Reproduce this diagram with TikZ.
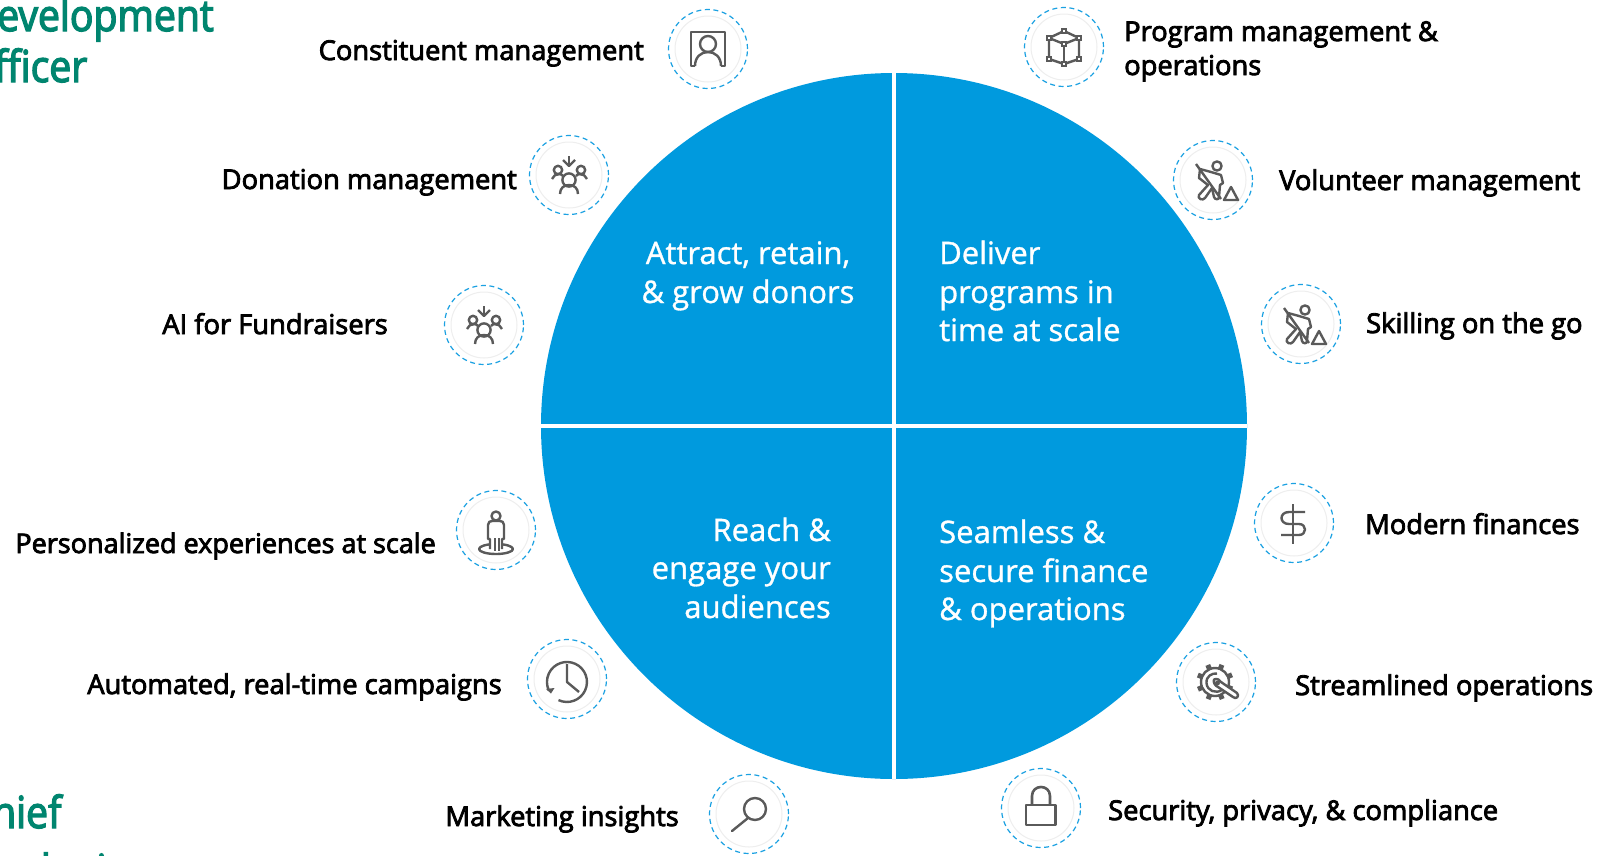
\documentclass[tikz,border=0pt]{standalone}
\usepackage{fontspec}
\setmainfont{Open Sans}
\newfontfamily\labfont[FakeBold=3]{Open Sans}
\newfontfamily\bigfont[FakeBold=1]{Open Sans}
\newfontfamily\tealfont[FakeBold=3,FakeStretch=0.89]{Open Sans}
\definecolor{wheelblue}{HTML}{009ADE}
\definecolor{dashblue}{HTML}{1BA1E2}
\definecolor{ringgray}{HTML}{EEEEEE}
\definecolor{icongray}{HTML}{5A5A5A}
\definecolor{headteal}{HTML}{00856F}
\tikzset{
  iconring/.style={circle,draw=dashblue,line width=1.2pt,dash pattern=on 5pt off 3.6pt,minimum size=79pt,inner sep=0pt},
  innerring/.style={circle,draw=ringgray,line width=1pt,minimum size=66pt,inner sep=0pt},
  iconline/.style={draw=icongray,line width=2.4pt,line join=round,fill=none},
  itemlabel/.style={font=\labfont\fontsize{27.3}{30}\selectfont,text=black,inner sep=0pt},
  wheeltext/.style={font=\bigfont\fontsize{31}{38}\selectfont,text=white,inner sep=0pt},
  tealtext/.style={font=\tealfont\fontsize{44}{50}\selectfont,text=headteal,inner sep=0pt},
  constituenticon/.pic={
    \draw[iconline] (-13,17) -- (-17,17) -- (-17,-17) -- (17,-17) -- (17,17) -- (13,17);
    \draw[iconline] (0,-5) circle[radius=8];
    \draw[iconline] (-13,17) .. controls (-13,8) and (-7,3) .. (0,3) .. controls (7,3) and (13,8) .. (13,17);
  },
  cubeicon/.pic={
    \draw[iconline] (0,-16) -- (-15,-9) -- (0,-3) -- (15,-9) -- cycle;
    \draw[iconline] (-15,-9) -- (-15,12) -- (0,17) -- (15,12) -- (15,-9);
    \draw[iconline] (0,-3) -- (0,17);
    \foreach \p in {(0,-16),(-15,-9),(15,-9),(0,-3),(-15,12),(15,12),(0,17)}{
      \draw[icongray,line width=1.8pt,fill=white] \p ++(-2.2,-2.2) rectangle ++(4.4,4.4);
    }
  },
  workericon/.pic={
    \draw[iconline] (4,-14) circle[radius=4.6];
    \draw[iconline] (-17,-16) -- (8,19);
    \draw[iconline,line cap=round] (-13,-11) -- (-14,-2) -- (-5,5) -- (-14,15) .. controls (-16,19) and (-10,21) .. (-8,18) -- (-1,8) -- (1,17) .. controls (2,20) and (6,20) .. (6,17) -- (7,5) -- (10,3) -- (8,-5) -- (-2,-8) -- (-13,-11);
    \draw[iconline] (11,20) -- (25,20) -- (18,7) -- cycle;
  },
  groupicon/.pic={
    \draw[iconline] (0,-19) -- (0,-9);
    \draw[iconline] (-6,-15) -- (0,-9) -- (6,-15);
    \draw[iconline] (-11,-5) circle[radius=4.2];
    \draw[iconline] (12,-5) circle[radius=4.2];
    \draw[iconline] (0,5) circle[radius=6.6];
    \draw[iconline] (-9,19) .. controls (-9,13) and (-5,10) .. (0,10) .. controls (5,10) and (9,13) .. (9,19);
    \draw[iconline] (-17,4) .. controls (-16,1) and (-13,-1) .. (-10,-1) .. controls (-8,-1) and (-7,0) .. (-6,1);
    \draw[iconline] (18,4) .. controls (17,1) and (14,-1) .. (11,-1) .. controls (9,-1) and (8,0) .. (7,1);
  },
  personicon/.pic={
    \draw[iconline] (0,-14) circle[radius=4.5];
    \draw[iconline] (0,19) ellipse[x radius=17,y radius=5];
    \draw[iconline,fill=white] (-6,19) -- (-6,9) -- (-8,9) -- (-8,-5) .. controls (-8,-8) and (-6,-9) .. (-4,-9) -- (4,-9) .. controls (6,-9) and (8,-8) .. (8,-5) -- (8,9) -- (6,9) -- (6,19);
    \draw[iconline] (-1,8) -- (-1,21);
    \draw[iconline] (3,8) -- (3,21);
  },
  clockicon/.pic={
    \draw[iconline] (-8.5,21.1) arc[start angle=115,delta angle=-320,radius=20];
    \fill[icongray] (-21,10) -- (-12.5,9) -- (-16,14.5) -- cycle;
    \draw[iconline] (0,-15) -- (0,3) -- (12,13);
  },
  dollaricon/.pic={
    \draw[iconline] (-1,-19) -- (-1,21);
    \draw[iconline] (11,-11) -- (-5,-11) .. controls (-15,-11) and (-15,1) .. (-5,1) -- (5,1) .. controls (13,1) and (13,12) .. (5,12) -- (-13,12);
  },
  gearicon/.pic={
    \draw[iconline] (-1,0) circle[radius=14];
    \foreach \a in {0,45,...,315}{
      \draw[icongray,line width=5pt] (-1,0) ++(\a+22:13) -- ++(\a+22:5.5);
    }
    \draw[iconline] (6,8) .. controls (0,12) and (-9,9) .. (-9.5,1) .. controls (-10,-6) and (-4,-9) .. (1,-8.5);
    \draw[iconline,fill=white,line cap=round] (-2,-2.5) .. controls (1,-4) and (4,-2) .. (5,0) -- (21,11) .. controls (24,14) and (20,18) .. (17,15) -- (2,5) .. controls (-1,4) and (-3,0) .. (-2,-2.5) -- cycle;
    \fill[icongray] (1.5,1) circle[radius=2.5];
  },
  searchicon/.pic={
    \draw[iconline] (6,-5) circle[radius=11];
    \draw[iconline,line cap=round] (-1,4) -- (-17,17);
  },
  lockicon/.pic={
    \draw[iconline,line width=2.8pt] (-15,-3) rectangle (14.5,17);
    \draw[iconline,line width=2.6pt] (-9,-3) -- (-9,-12) .. controls (-9,-24) and (9,-24) .. (9,-12) -- (9,-3);
  }
}
\begin{document}
\begin{tikzpicture}[x=1pt,y=-1pt]
\useasboundingbox (0,0) rectangle (1599,855);
\clip (0,0) rectangle (1599,855);
\fill[white] (0,0) rectangle (1599,855);
% wheel
\node[circle,fill=wheelblue,minimum size=706pt,inner sep=0pt] (wheel) at (894,426) {};
\draw[white,line width=4pt] (wheel.north) -- (wheel.south);
\draw[white,line width=4pt] (wheel.west) -- (wheel.east);
% wheel texts
\node[wheeltext,anchor=base] (attractA) at (748,264) {Attract, retain,};
\node[wheeltext,anchor=base] (attractB) at (748,303) {\& grow donors};
\node[wheeltext,anchor=base west] (deliverA) at (939,264) {Deliver};
\node[wheeltext,anchor=base west] (deliverB) at (939,303) {programs in};
\node[wheeltext,anchor=base west] (deliverC) at (939,341) {time at scale};
\node[wheeltext,anchor=base east] (reachA) at (831,541) {Reach \&};
\node[wheeltext,anchor=base east] (reachB) at (831,579) {engage your};
\node[wheeltext,anchor=base east] (reachC) at (831,618) {audiences};
\node[wheeltext,anchor=base west] (seamlessA) at (939,543) {Seamless \&};
\node[wheeltext,anchor=base west] (seamlessB) at (939,582) {secure finance};
\node[wheeltext,anchor=base west] (seamlessC) at (939,620) {\& operations};
% icon rings
\foreach \n/\cx/\cy/\ic in {
  ringa/708/49/constituenticon, ringb/1064/47/cubeicon, ringc/1213/180/workericon,
  ringd/1301/324/workericon, ringe/569/175/groupicon, ringf/484/325/groupicon,
  ringg/496/530/personicon, ringh/567/679/clockicon, ringi/1294/523/dollaricon,
  ringj/1216/682/gearicon, ringk/749/814/searchicon, ringl/1041/808/lockicon}{
  \node[innerring] (\n in) at (\cx,\cy) {};
  \node[iconring] (\n) at (\cx,\cy) {};
  \pic at (\cx,\cy) {\ic};
}
% labels
\node[itemlabel,anchor=base east] (la) at (644,60) {Constituent management};
\node[itemlabel,anchor=base west] (lb) at (1124,41) {Program management \&};
\node[itemlabel,anchor=base west] (lbb) at (1124,75) {operations};
\node[itemlabel,anchor=base west] (lc) at (1279,190) {Volunteer management};
\node[itemlabel,anchor=base west] (ld) at (1366,333) {Skilling on the go};
\node[itemlabel,anchor=base east] (le) at (517,189) {Donation management};
\node[itemlabel,anchor=base east] (lf) at (388,334) {AI for Fundraisers};
\node[itemlabel,anchor=base east,font=\labfont\fontsize{27}{30}\selectfont] (lg) at (436,553) {Personalized experiences at scale};
\node[itemlabel,anchor=base east] (lh) at (502,694) {Automated, real-time campaigns};
\node[itemlabel,anchor=base west] (li) at (1365,534) {Modern finances};
\node[itemlabel,anchor=base west] (lj) at (1295,695) {Streamlined operations};
\node[itemlabel,anchor=base east] (lk) at (679,826) {Marketing insights};
\node[itemlabel,anchor=base west] (ll) at (1108,820) {Security, privacy, \& compliance};
% clipped teal headings
\node[tealtext,anchor=base west] (ta) at (-3,31) {evelopment};
\node[tealtext,anchor=base west] (tb) at (-6,82) {fficer};
\node[tealtext,anchor=base west] (tc) at (-8,828) {hief};
\node[tealtext,anchor=base west] (td) at (3,886) {arketing};
\end{tikzpicture}
\end{document}
